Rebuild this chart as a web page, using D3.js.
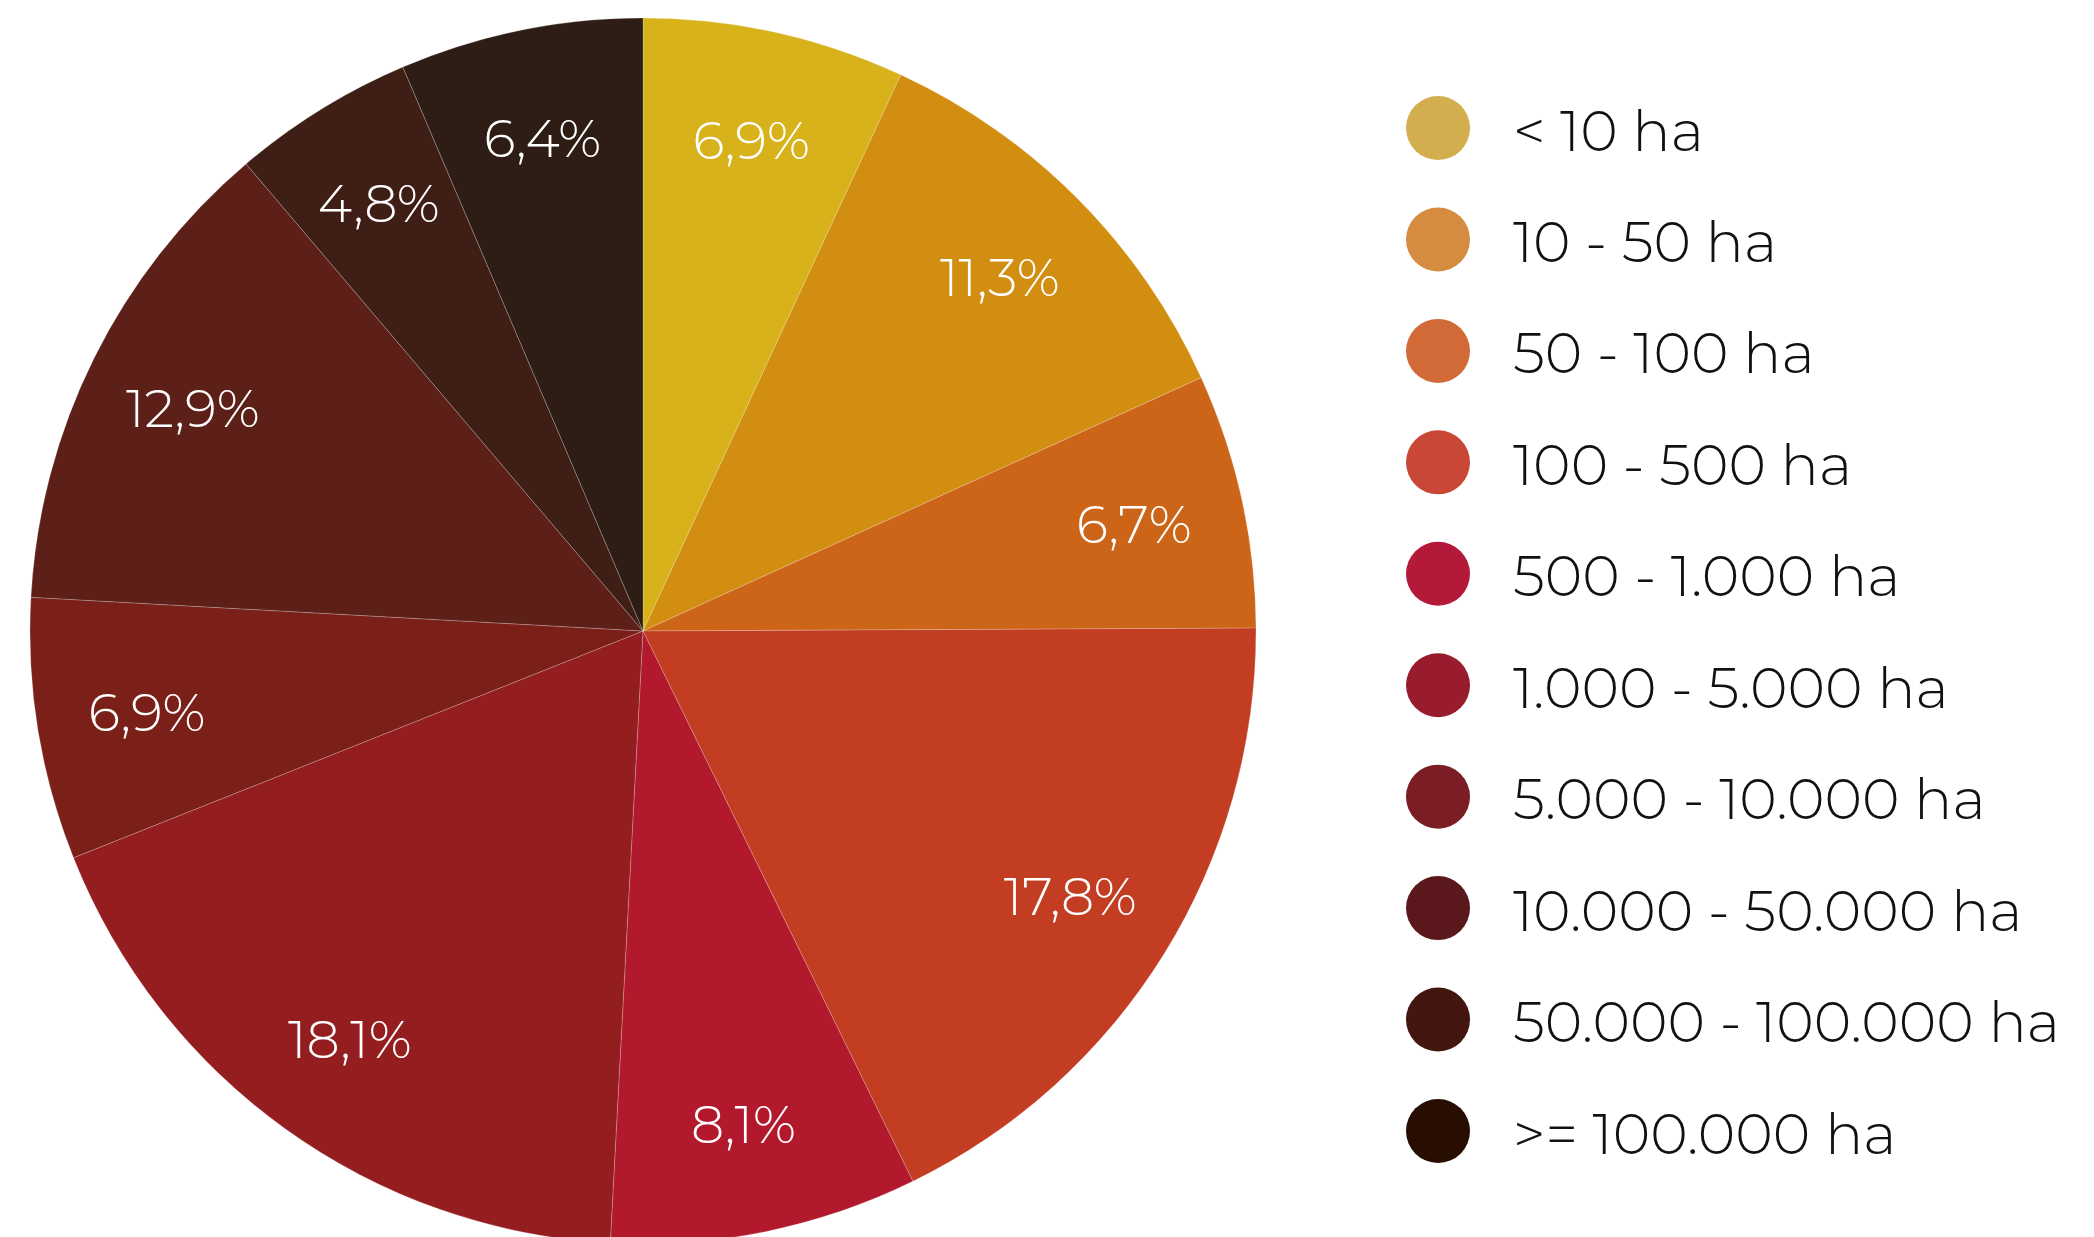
<!DOCTYPE html>
<html>
<head>
<meta charset="utf-8">
<script src="https://cdn.jsdelivr.net/npm/d3@7"></script>
<style>
  html, body { margin: 0; padding: 0; background: #ffffff; }
  svg { display: block; }
  text { font-family: "Montserrat", "Inter", "Lato", sans-serif; font-weight: 300; }
</style>
</head>
<body>
<svg id="chart" width="2094" height="1237"></svg>
<script>
const categories = ["< 10 ha", "10 - 50 ha", "50 - 100 ha", "100 - 500 ha", "500 - 1.000 ha",
  "1.000 - 5.000 ha", "5.000 - 10.000 ha", "10.000 - 50.000 ha", "50.000 - 100.000 ha", ">= 100.000 ha"];
const values = [6.9, 11.3, 6.7, 17.8, 8.1, 18.1, 6.9, 12.9, 4.8, 6.4];
const valueLabels = ["6,9%", "11,3%", "6,7%", "17,8%", "8,1%", "18,1%", "6,9%", "12,9%", "4,8%", "6,4%"];
const sliceColors = ["#D7B21A", "#D28E10", "#CC6518", "#C23D21", "#B2192C",
  "#941D20", "#7B2019", "#5C2018", "#3F1E16", "#2D1D14"];
const legendColors = ["#D3AE4F", "#D58C41", "#D26A37", "#C84736", "#B5193A",
  "#991B2E", "#7B1D24", "#5B181C", "#43160F", "#280E02"];

const svg = d3.select("#chart");
const cx = 643, cy = 631, r = 613;

const data = categories.map((c, i) => ({ cat: c, value: values[i], label: valueLabels[i], i }));
const pie = d3.pie().value(d => d.value).sort(null);
const arcs = pie(data);
const arc = d3.arc().innerRadius(0).outerRadius(r);
const labelArc = d3.arc().innerRadius(r * 0.82).outerRadius(r * 0.82);
const color = d3.scaleOrdinal().domain(categories).range(sliceColors);
const lcolor = d3.scaleOrdinal().domain(categories).range(legendColors);

const g = svg.append("g").attr("transform", `translate(${cx},${cy})`);
g.selectAll("path.slice").data(arcs).join("path")
  .attr("class", "slice")
  .attr("d", arc)
  .attr("fill", d => color(d.data.cat))
  .attr("stroke", "rgba(255,255,255,0.3)")
  .attr("stroke-width", 0.7);

g.selectAll("text.lbl").data(arcs).join("text")
  .attr("class", "lbl")
  .attr("transform", d => `translate(${labelArc.centroid(d)})`)
  .attr("text-anchor", "middle")
  .attr("dominant-baseline", "central")
  .attr("fill", "#ffffff")
  .attr("font-size", 52.5)
  .text(d => d.data.label);

const legendY = d3.scalePoint().domain(categories).range([128, 1131]);
const lg = svg.append("g");
const items = lg.selectAll("g.item").data(categories).join("g")
  .attr("class", "item")
  .attr("transform", d => `translate(1438,${legendY(d)})`);
items.append("circle").attr("r", 32).attr("fill", d => lcolor(d));
items.append("text")
  .attr("x", 75)
  .attr("y", 2)
  .attr("dominant-baseline", "central")
  .attr("fill", "#111111")
  .attr("font-size", 57)
  .text(d => d);
</script>
</body>
</html>
